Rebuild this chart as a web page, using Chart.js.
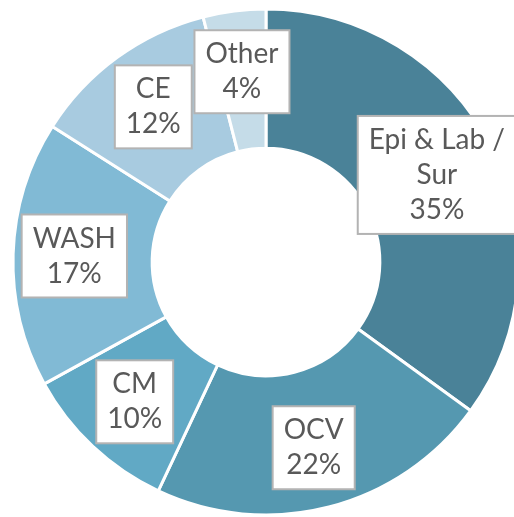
<!DOCTYPE html>
<html>
<head>
<meta charset="utf-8">
<script src="https://cdn.jsdelivr.net/npm/chart.js@4"></script>
<style>
  html, body { margin: 0; padding: 0; background: #fff; overflow: hidden; }
  .wrap { position: absolute; left: 0; top: 0; width: 532px; height: 524px; }
</style>
</head>
<body>
<div class="wrap"><canvas id="donut"></canvas></div>
<script>
// slices, clockwise from 12 o'clock
const categories = [['Epi & Lab /', 'Sur'], 'OCV', 'CM', 'WASH', 'CE', 'Other'];
const shares = [35, 22, 10, 17, 12, 4];
const sliceColors = ['#4a8298', '#5598b0', '#61a9c5', '#81bad5', '#a8cbe0', '#c5dce8'];

// draws the white boxed labels on each slice
const boxLabels = {
  id: 'boxLabels',
  afterDatasetsDraw(chart) {
    const ctx = chart.ctx;
    const meta = chart.getDatasetMeta(0);
    const lineH = 35;
    ctx.save();
    ctx.font = '28px Lato';
    ctx.textAlign = 'center';
    ctx.textBaseline = 'middle';
    meta.data.forEach((arc, i) => {
      const p = arc.getProps(['x', 'y', 'startAngle', 'endAngle', 'innerRadius', 'outerRadius'], true);
      const mid = (p.startAngle + p.endAngle) / 2;
      const r = p.innerRadius + 0.56 * (p.outerRadius - p.innerRadius);
      const cx = p.x + Math.cos(mid) * r;
      const cy = p.y + Math.sin(mid) * r;
      const name = categories[i];
      const lines = (Array.isArray(name) ? name : [name]).concat([shares[i] + '%']);
      const w = Math.max(...lines.map(l => ctx.measureText(l).width)) + 22;
      const h = lines.length * lineH + 13;
      ctx.fillStyle = '#fff';
      ctx.fillRect(cx - w / 2, cy - h / 2, w, h);
      ctx.strokeStyle = '#b3b3b3';
      ctx.lineWidth = 2;
      ctx.strokeRect(cx - w / 2, cy - h / 2, w, h);
      ctx.fillStyle = '#595959';
      lines.forEach((l, k) => {
        ctx.fillText(l, cx, cy + (k - (lines.length - 1) / 2) * lineH);
      });
    });
    ctx.restore();
  }
};

new Chart(document.getElementById('donut'), {
  type: 'doughnut',
  data: {
    labels: categories,
    datasets: [{
      data: shares,
      backgroundColor: sliceColors,
      borderColor: '#ffffff',
      borderWidth: 3
    }]
  },
  options: {
    responsive: true,
    maintainAspectRatio: false,
    animation: false,
    cutout: '45%',
    layout: { padding: 7.5 },
    plugins: {
      legend: { display: false },
      tooltip: { enabled: false }
    }
  },
  plugins: [boxLabels]
});
</script>
</body>
</html>
